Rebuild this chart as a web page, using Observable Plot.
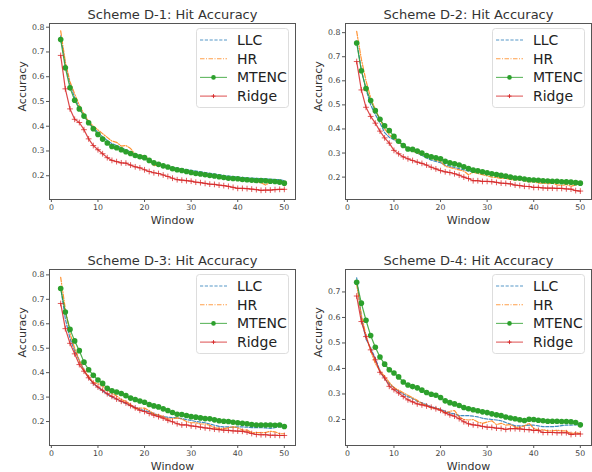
<!DOCTYPE html>
<html><head><meta charset="utf-8">
<script src="https://cdn.jsdelivr.net/npm/d3@7"></script>
<script src="https://cdn.jsdelivr.net/npm/@observablehq/plot@0.6"></script>
<style>
body{margin:0;background:#fff;font-family:"DejaVu Sans",sans-serif;}
#root{position:relative;width:592px;height:472px;overflow:hidden;background:#fff;}
.panel{position:absolute;}
.legend{position:absolute;}
</style></head><body><div id="root"></div>
<script>
// ---- data ----
const windows = [2,3,4,5,6,7,8,9,10,11,12,13,14,15,16,17,18,19,20,21,22,23,24,25,26,27,28,29,30,31,32,33,34,35,36,37,38,39,40,41,42,43,44,45,46,47,48,49,50];
const methods = ["LLC", "HR", "MTENC", "Ridge"];
const titles = ["Scheme D-1: Hit Accuracy", "Scheme D-2: Hit Accuracy", "Scheme D-3: Hit Accuracy", "Scheme D-4: Hit Accuracy"];
const xTicks = [0, 10, 20, 30, 40, 50];
const yTicksA = [0.2, 0.3, 0.4, 0.5, 0.6, 0.7, 0.8];
const yTicksB = [0.2, 0.3, 0.4, 0.5, 0.6, 0.7];
const xLabel = "Window";
const yLabel = "Accuracy";

const d1LLC = [0.765,0.65,0.57,0.515,0.475,0.445,0.418,0.395,0.375,0.357,0.342,0.330,0.322,0.313,0.305,0.296,0.288,0.281,0.275,0.265,0.256,0.249,0.243,0.238,0.234,0.231,0.228,0.225,0.222,0.219,0.216,0.213,0.210,0.207,0.204,0.201,0.199,0.197,0.195,0.193,0.191,0.190,0.189,0.188,0.187,0.186,0.185,0.184,0.180];
const d1HR = [0.785,0.66,0.58,0.53,0.485,0.45,0.42,0.40,0.385,0.37,0.355,0.34,0.335,0.32,0.322,0.31,0.285,0.28,0.28,0.265,0.24,0.245,0.24,0.232,0.225,0.22,0.222,0.215,0.21,0.212,0.208,0.21,0.205,0.2,0.198,0.195,0.19,0.19,0.182,0.18,0.182,0.178,0.175,0.172,0.162,0.175,0.173,0.172,0.17];
const d1MTENC = [0.750,0.636,0.555,0.505,0.470,0.441,0.414,0.390,0.367,0.348,0.332,0.318,0.313,0.305,0.297,0.290,0.282,0.277,0.273,0.262,0.252,0.246,0.240,0.235,0.228,0.224,0.221,0.217,0.213,0.209,0.207,0.204,0.201,0.199,0.196,0.193,0.190,0.189,0.188,0.185,0.184,0.182,0.181,0.181,0.180,0.178,0.177,0.174,0.170];
const d1Ridge = [0.686,0.551,0.470,0.428,0.415,0.386,0.349,0.322,0.305,0.289,0.273,0.262,0.257,0.252,0.251,0.243,0.236,0.232,0.224,0.217,0.212,0.209,0.203,0.197,0.190,0.184,0.182,0.180,0.178,0.174,0.172,0.169,0.166,0.165,0.162,0.160,0.157,0.153,0.149,0.149,0.148,0.146,0.144,0.141,0.142,0.142,0.144,0.145,0.145];

const d2LLC = [0.765,0.645,0.565,0.5,0.46,0.425,0.385,0.365,0.355,0.345,0.335,0.32,0.31,0.3,0.29,0.28,0.27,0.265,0.26,0.25,0.245,0.24,0.235,0.23,0.225,0.222,0.22,0.216,0.213,0.21,0.206,0.203,0.2,0.197,0.195,0.193,0.192,0.19,0.189,0.187,0.185,0.183,0.181,0.18,0.178,0.177,0.176,0.175,0.173];
const d2HR = [0.805,0.69,0.6,0.53,0.48,0.44,0.4,0.375,0.36,0.345,0.33,0.32,0.31,0.3,0.295,0.285,0.28,0.27,0.265,0.245,0.24,0.235,0.23,0.225,0.21,0.22,0.215,0.21,0.205,0.2,0.198,0.195,0.195,0.19,0.188,0.19,0.185,0.18,0.182,0.175,0.175,0.172,0.175,0.168,0.165,0.17,0.162,0.168,0.172];
const d2MTENC = [0.757,0.642,0.568,0.518,0.476,0.44,0.413,0.393,0.369,0.349,0.331,0.317,0.315,0.308,0.3,0.29,0.284,0.28,0.276,0.266,0.259,0.255,0.25,0.243,0.236,0.229,0.226,0.222,0.218,0.214,0.211,0.207,0.204,0.2,0.196,0.195,0.192,0.189,0.188,0.187,0.185,0.184,0.183,0.183,0.181,0.18,0.179,0.177,0.175];
const d2Ridge = [0.68,0.562,0.49,0.452,0.424,0.391,0.363,0.341,0.311,0.297,0.284,0.276,0.269,0.262,0.257,0.25,0.241,0.234,0.227,0.222,0.219,0.214,0.208,0.2,0.194,0.185,0.185,0.182,0.182,0.181,0.178,0.175,0.174,0.172,0.167,0.165,0.162,0.161,0.157,0.157,0.155,0.154,0.154,0.153,0.153,0.151,0.15,0.144,0.142];

const d3LLC = [0.75,0.62,0.54,0.49,0.45,0.41,0.38,0.355,0.34,0.325,0.312,0.3,0.292,0.282,0.274,0.265,0.258,0.25,0.245,0.24,0.232,0.225,0.22,0.218,0.216,0.215,0.212,0.208,0.205,0.2,0.198,0.195,0.19,0.185,0.18,0.178,0.178,0.177,0.178,0.178,0.177,0.175,0.175,0.175,0.174,0.172,0.175,0.18,0.175];
const d3HR = [0.79,0.66,0.56,0.5,0.45,0.41,0.385,0.36,0.355,0.345,0.33,0.315,0.305,0.29,0.282,0.27,0.252,0.255,0.255,0.245,0.23,0.228,0.22,0.21,0.212,0.215,0.21,0.2,0.195,0.195,0.19,0.19,0.185,0.175,0.172,0.17,0.175,0.178,0.175,0.165,0.165,0.155,0.155,0.155,0.155,0.16,0.158,0.15,0.15];
const d3MTENC = [0.744,0.648,0.577,0.53,0.49,0.443,0.412,0.389,0.37,0.356,0.336,0.326,0.321,0.315,0.306,0.296,0.29,0.284,0.279,0.27,0.264,0.26,0.252,0.245,0.237,0.23,0.229,0.225,0.22,0.218,0.215,0.212,0.211,0.207,0.203,0.201,0.2,0.197,0.195,0.193,0.191,0.188,0.186,0.186,0.186,0.186,0.185,0.186,0.18];
const d3Ridge = [0.683,0.58,0.52,0.477,0.433,0.406,0.379,0.357,0.341,0.328,0.314,0.303,0.292,0.283,0.276,0.265,0.256,0.246,0.241,0.233,0.226,0.22,0.214,0.205,0.199,0.191,0.186,0.186,0.182,0.18,0.177,0.174,0.172,0.169,0.167,0.165,0.164,0.162,0.161,0.16,0.157,0.151,0.147,0.146,0.146,0.144,0.144,0.143,0.143];

const d4LLC = [0.755,0.6,0.515,0.48,0.44,0.39,0.36,0.34,0.325,0.31,0.3,0.29,0.282,0.272,0.265,0.258,0.25,0.245,0.24,0.232,0.225,0.222,0.215,0.215,0.215,0.213,0.21,0.205,0.202,0.2,0.198,0.195,0.188,0.182,0.175,0.175,0.176,0.178,0.178,0.175,0.172,0.172,0.172,0.173,0.176,0.178,0.178,0.179,0.18];
const d4HR = [0.73,0.61,0.53,0.47,0.42,0.39,0.37,0.345,0.325,0.315,0.305,0.295,0.285,0.275,0.262,0.255,0.245,0.245,0.237,0.225,0.232,0.235,0.21,0.2,0.198,0.2,0.19,0.185,0.19,0.195,0.18,0.185,0.178,0.18,0.17,0.168,0.175,0.185,0.165,0.158,0.16,0.155,0.155,0.158,0.155,0.155,0.145,0.148,0.145];
const d4MTENC = [0.738,0.656,0.589,0.529,0.483,0.445,0.417,0.395,0.382,0.367,0.347,0.335,0.329,0.324,0.315,0.306,0.299,0.295,0.286,0.273,0.266,0.261,0.255,0.247,0.242,0.238,0.234,0.23,0.227,0.222,0.218,0.215,0.21,0.206,0.203,0.199,0.196,0.201,0.2,0.197,0.195,0.193,0.193,0.193,0.192,0.192,0.191,0.188,0.179];
const d4Ridge = [0.684,0.584,0.525,0.473,0.434,0.385,0.363,0.33,0.317,0.304,0.29,0.277,0.269,0.261,0.257,0.253,0.248,0.242,0.236,0.226,0.218,0.213,0.203,0.191,0.183,0.179,0.177,0.173,0.17,0.169,0.166,0.165,0.161,0.164,0.164,0.163,0.161,0.16,0.157,0.157,0.149,0.149,0.149,0.148,0.148,0.148,0.141,0.143,0.143];

// ---- styling ----
const colors = {LLC: "#1f77b4", HR: "#ff7f0e", MTENC: "#2ca02c", Ridge: "#d62728"};
const dashes = {LLC: "3.2,1.6", HR: "4.5,1.5,1,1.5", MTENC: null, Ridge: null};
const FONT = "DejaVu Sans";

const panels = [
  {title: titles[0], series: [d1LLC, d1HR, d1MTENC, d1Ridge], left: 0,   top: 0,   mt: 23, mb: 37, yDomain: [0.104, 0.815], yTicks: yTicksA},
  {title: titles[1], series: [d2LLC, d2HR, d2MTENC, d2Ridge], left: 296, top: 0,   mt: 23, mb: 37, yDomain: [0.107, 0.838], yTicks: yTicksA},
  {title: titles[2], series: [d3LLC, d3HR, d3MTENC, d3Ridge], left: 0,   top: 236, mt: 33, mb: 27, yDomain: [0.102, 0.822], yTicks: yTicksA},
  {title: titles[3], series: [d4LLC, d4HR, d4MTENC, d4Ridge], left: 296, top: 236, mt: 33, mb: 27, yDomain: [0.098, 0.788], yTicks: yTicksB}
];

const root = document.getElementById("root");

for (const p of panels) {
  const rows = [];
  methods.forEach((m, k) => p.series[k].forEach((v, i) => rows.push({method: m, window: windows[i], acc: v})));
  const of = m => rows.filter(r => r.method === m);
  const lineMarks = methods.map(m => Plot.line(of(m), {
    x: "window", y: "acc", stroke: colors[m], strokeWidth: 1.2,
    strokeDasharray: dashes[m] || undefined, strokeOpacity: 0.85
  }));
  const chart = Plot.plot({
    width: 296, height: 236,
    marginLeft: 49, marginRight: 1, marginTop: p.mt, marginBottom: p.mb,
    style: {fontFamily: FONT, background: "transparent", color: "#333"},
    x: {domain: [-0.4, 52.4]},
    y: {domain: p.yDomain},
    marks: [
      Plot.frame({stroke: "#555", strokeWidth: 1}),
      Plot.axisX(xTicks, {tickSize: 3, tickPadding: 2, fontSize: 7.8, fill: "#444", stroke: "#555", label: null}),
      Plot.axisY(p.yTicks, {tickSize: 3, tickPadding: 2, fontSize: 7.8, fill: "#444", stroke: "#555", label: null, tickFormat: d3.format(".1f")}),
      lineMarks[0], lineMarks[1], lineMarks[2],
      Plot.dot(of("MTENC"), {x: "window", y: "acc", r: 2.8, fill: colors.MTENC, stroke: null}),
      lineMarks[3],
      Plot.dot(of("Ridge"), {x: "window", y: "acc", r: 2, symbol: "plus", stroke: colors.Ridge, strokeWidth: 0.9, strokeOpacity: 0.85}),
      Plot.text([p.title], {frameAnchor: "top", lineAnchor: "bottom", dy: -4.5, fontSize: 13, fill: "#333"}),
      Plot.text([xLabel], {frameAnchor: "bottom", lineAnchor: "bottom", dy: 24, fontSize: 11, fill: "#333"}),
      Plot.text([yLabel], {frameAnchor: "left", lineAnchor: "bottom", rotate: -90, dx: -23.5, fontSize: 11, fill: "#333"})
    ]
  });
  chart.classList.add("panel");
  chart.style.left = p.left + "px";
  chart.style.top = p.top + "px";
  root.appendChild(chart);

  // legend (upper right inside the frame)
  const lw = 93, lh = 80;
  const leg = d3.create("svg").attr("class", "legend").attr("width", lw).attr("height", lh)
    .style("left", (p.left + 295 - 6 - lw) + "px").style("top", (p.top + p.mt + 5) + "px");
  leg.append("rect").attr("x", 0.5).attr("y", 0.5).attr("width", lw - 1).attr("height", lh - 1)
    .attr("rx", 3).attr("fill", "#fff").attr("fill-opacity", 0.8).attr("stroke", "#ddd");
  methods.forEach((m, k) => {
    const cy = 12 + k * 18.7;
    leg.append("line").attr("x1", 4).attr("x2", 31).attr("y1", cy).attr("y2", cy)
      .attr("stroke", colors[m]).attr("stroke-width", 1.1).attr("stroke-opacity", 0.75).attr("stroke-dasharray", dashes[m]);
    if (m === "MTENC") leg.append("circle").attr("cx", 17.5).attr("cy", cy).attr("r", 2.3).attr("fill", colors[m]);
    if (m === "Ridge") leg.append("path").attr("d", `M15.5,${cy}h4M17.5,${cy - 2}v4`).attr("stroke", colors[m]).attr("stroke-width", 0.9);
    leg.append("text").attr("x", 41).attr("y", cy).attr("dy", "0.36em").attr("font-size", 14)
      .attr("font-family", FONT).attr("fill", "#222").text(m);
  });
  root.appendChild(leg.node());
}
</script>
</body></html>
